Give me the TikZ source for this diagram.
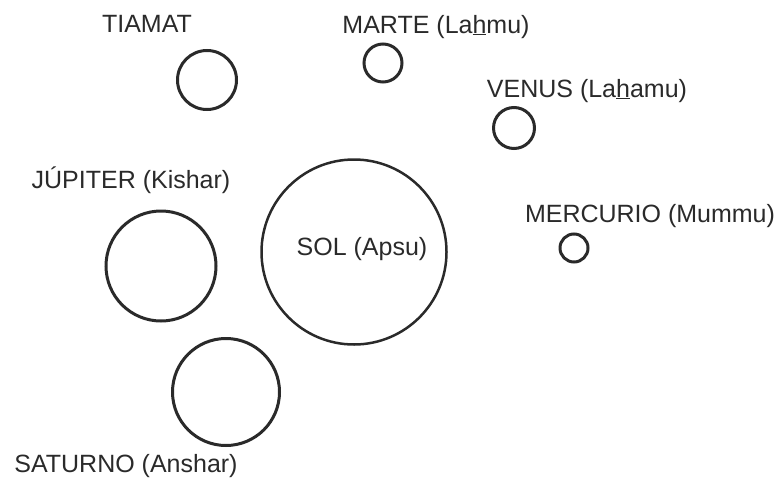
\documentclass[tikz,border=0pt]{standalone}
\usepackage{fontspec}
\setmainfont{Liberation Sans}
\definecolor{ink}{HTML}{2A2A2A}
\begin{document}
\begin{tikzpicture}[x=1pt,y=-1pt,
  planet/.style={circle,draw=ink,line width=3pt,inner sep=0pt},
  lbl/.style={anchor=base,inner sep=0pt,text=ink,font=\fontsize{25}{30}\selectfont}]
\useasboundingbox (0,0) rectangle (778,479);
% circles
\node[planet,minimum size=59pt] (tiamat) at (207,80) {};
\node[planet,minimum size=38pt] (marte) at (383,63) {};
\node[planet,minimum size=41pt] (venus) at (514,128) {};
\node[planet,minimum size=110pt] (jupiter) at (161,266) {};
\node[planet,line width=2.5pt,minimum size=185pt] (sol) at (354,252) {};
\node[planet,minimum size=28pt] (mercurio) at (574,248) {};
\node[planet,minimum size=107pt] (saturno) at (226,392) {};
% labels
\node[lbl] (ltiamat) at (147,32) {TIAMAT};
\node[lbl] (lmarte) at (436,33) {MARTE (La\underline{h}mu)};
\node[lbl] (lvenus) at (587,97) {VENUS (La\underline{h}amu)};
\node[lbl] (ljupiter) at (131,188) {JÚPITER (Kishar)};
\node[lbl] (lsol) at (362,255) {SOL (Apsu)};
\node[lbl] (lmercurio) at (650,222) {MERCURIO (Mummu)};
\node[lbl] (lsaturno) at (126,472) {SATURNO (Anshar)};
\end{tikzpicture}
\end{document}
